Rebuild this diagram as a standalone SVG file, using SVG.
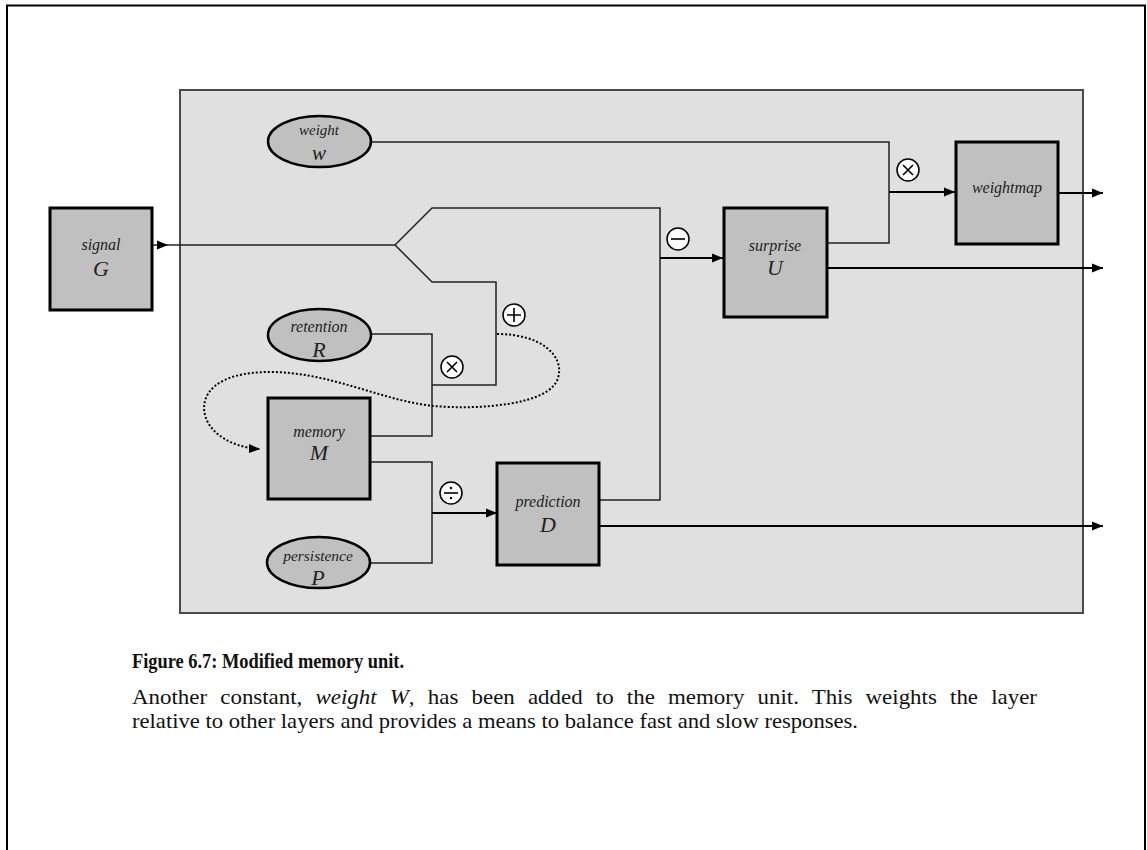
<svg xmlns="http://www.w3.org/2000/svg" width="1147" height="850" viewBox="0 0 1147 850">
<defs>
<style>
.node{fill:#c0c0c0;stroke:#000;stroke-width:3}
.ell{fill:#c0c0c0;stroke:#000;stroke-width:2.5}
.lbl{font-family:"Liberation Serif",serif;font-style:italic;fill:#222;text-anchor:middle}
.thin{fill:none;stroke:#222;stroke-width:1.5}
.thick{fill:none;stroke:#000;stroke-width:2.2}
.op{fill:#fff;stroke:#000;stroke-width:1.5}
.opl{fill:none;stroke:#000;stroke-width:1.6}
.cap{font-family:"Liberation Serif","Times New Roman",serif;fill:#111;font-size:21.5px}
</style>
<marker id="ah" markerWidth="11" markerHeight="10" refX="11" refY="5" orient="auto" markerUnits="userSpaceOnUse">
<path d="M0,0.5 L11,5 L0,9.5z" fill="#000"/>
</marker>
</defs>
<rect x="0" y="0" width="1147" height="850" fill="#fff"/>
<rect id="frame" x="7" y="5.5" width="1138" height="900" fill="none" stroke="#000" stroke-width="2"/>
<rect id="panel" x="180" y="90" width="903" height="523" fill="#e0e0e0" stroke="#4a4a4a" stroke-width="2"/>

<g id="connectors">
<path class="thin" d="M152 245 H395"/>
<path d="M157 240.5 L168 245 L157 249.5z" fill="#000"/>
<path class="thin" d="M371 142 H889 V243 H827"/>
<path class="thin" d="M395 245 L432 208 H660 V500 H599"/>
<path class="thin" d="M395 245 L432 282 H496 V385 H432"/>
<path class="thin" d="M370 334 H432 V436 H370"/>
<path class="thin" d="M370 462 H432 V563 H370"/>
<path class="thick" d="M660 258 H723" marker-end="url(#ah)"/>
<path class="thick" d="M889 192 H955" marker-end="url(#ah)"/>
<path class="thick" d="M432 513 H497" marker-end="url(#ah)"/>
<path class="thick" d="M1058 193 H1103" marker-end="url(#ah)"/>
<path class="thick" d="M827 268 H1103" marker-end="url(#ah)"/>
<path class="thick" d="M599 526 H1103" marker-end="url(#ah)"/>
<path fill="none" stroke="#000" stroke-width="2" stroke-dasharray="2 2" d="M497 334 C540 334 565 355 558 378 C550 405 480 410 433 406 C380 400 330 372 270 372 C215 372 200 395 205 415 C210 435 235 448 260 449" marker-end="url(#ah)"/>
</g>

<g id="op-minus"><circle class="op" cx="678" cy="239" r="11"/><path class="opl" d="M671 239 H685"/></g>
<g id="op-times1"><circle class="op" cx="908" cy="170" r="11"/><path class="opl" d="M903 165 L913 175 M913 165 L903 175"/></g>
<g id="op-plus"><circle class="op" cx="514" cy="315" r="11"/><path class="opl" d="M507 315 H521 M514 308 V322"/></g>
<g id="op-times2"><circle class="op" cx="452" cy="367" r="11"/><path class="opl" d="M447 362 L457 372 M457 362 L447 372"/></g>
<g id="op-div"><circle class="op" cx="451" cy="493" r="11"/><path class="opl" d="M444 493 H458"/><circle cx="451" cy="488" r="1.2"/><circle cx="451" cy="498" r="1.2"/></g>

<g id="signal"><rect class="node" x="50" y="208" width="102" height="102"/><text class="lbl" x="101" y="250" font-size="16">signal</text><text class="lbl" x="101" y="276" font-size="22">G</text></g>
<g id="weight"><ellipse class="ell" cx="319.5" cy="141.5" rx="51.5" ry="25.5"/><text class="lbl" x="319" y="135" font-size="15">weight</text><text class="lbl" x="319" y="160" font-size="21">w</text></g>
<g id="retention"><ellipse class="ell" cx="319.5" cy="335" rx="51.5" ry="26"/><text class="lbl" x="319" y="332" font-size="16">retention</text><text class="lbl" x="319" y="357" font-size="22">R</text></g>
<g id="memory"><rect class="node" x="268" y="398" width="102" height="101"/><text class="lbl" x="319" y="437" font-size="16">memory</text><text class="lbl" x="319" y="460" font-size="22">M</text></g>
<g id="persistence"><ellipse class="ell" cx="318.5" cy="562.5" rx="51.5" ry="25.5"/><text class="lbl" x="318" y="561" font-size="15.5">persistence</text><text class="lbl" x="318" y="585" font-size="22">P</text></g>
<g id="prediction"><rect class="node" x="497" y="463" width="102" height="102"/><text class="lbl" x="548" y="507" font-size="16">prediction</text><text class="lbl" x="548" y="532" font-size="22">D</text></g>
<g id="surprise"><rect class="node" x="724" y="208" width="103" height="109"/><text class="lbl" x="775" y="251" font-size="16">surprise</text><text class="lbl" x="775" y="275" font-size="22">U</text></g>
<g id="weightmap"><rect class="node" x="956" y="142" width="102" height="102"/><text class="lbl" x="1007" y="193" font-size="16">weightmap</text></g>

<g id="caption">
<text class="cap" x="132" y="668" font-weight="bold" font-size="18.3" textLength="272" lengthAdjust="spacingAndGlyphs">Figure 6.7: Modified memory unit.</text>
<text class="cap" x="132" y="704" word-spacing="7" textLength="905" lengthAdjust="spacingAndGlyphs">Another constant, <tspan font-style="italic">weight W</tspan>, has been added to the memory unit. This weights the layer</text>
<text class="cap" x="132" y="728" textLength="726" lengthAdjust="spacingAndGlyphs">relative to other layers and provides a means to balance fast and slow responses.</text>
</g>
</svg>
